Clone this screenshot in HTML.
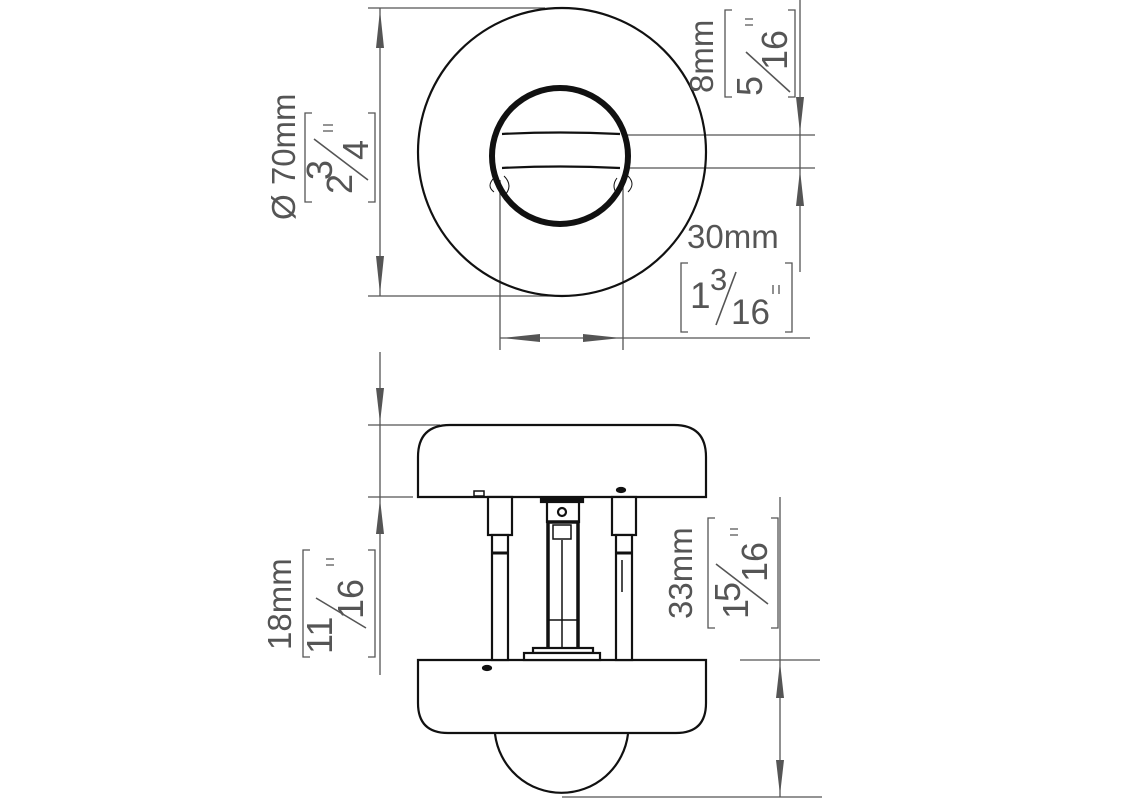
<!DOCTYPE html>
<html><head><style>
html,body{margin:0;padding:0;background:#fff;}
svg{display:block;}
text{font-family:"Liberation Sans",sans-serif;fill:#555;}
</style></head><body>
<svg width="1130" height="800" viewBox="0 0 1130 800" xmlns="http://www.w3.org/2000/svg">
<g stroke="#555" stroke-width="1.3" fill="none">
<line x1="368" y1="8" x2="545" y2="8"/>
<line x1="368" y1="296" x2="560" y2="296"/>
<line x1="380" y1="8" x2="380" y2="296"/>
<path d="M376,48 L380,10 L384,48Z M376,256 L380,294 L384,256Z" fill="#555" stroke="none"/>
<line x1="625" y1="135" x2="815" y2="135"/>
<line x1="625" y1="168" x2="815" y2="168"/>
<line x1="800" y1="0" x2="800" y2="272"/>
<path d="M796,97 L800,133 L804,97Z M796,206 L800,170 L804,206Z" fill="#555" stroke="none"/>
<line x1="500" y1="180" x2="500" y2="350"/>
<line x1="623" y1="180" x2="623" y2="350"/>
<line x1="500" y1="338" x2="810" y2="338"/>
<path d="M502,338 L540,334 L540,342Z M621,338 L583,334 L583,342Z" fill="#555" stroke="none"/>
<path d="M312,113 L305,113 L305,202 L312,202 M368,113 L375,113 L375,202 L368,202"/>
<path d="M732,10 L725,10 L725,97 L732,97 M788,10 L795,10 L795,97 L788,97"/>
<path d="M688,263 L681,263 L681,332 L688,332 M785,263 L792,263 L792,332 L785,332"/>
<path d="M310,550 L303,550 L303,657 L310,657 M368,550 L375,550 L375,657 L368,657"/>
<path d="M715,518 L708,518 L708,628 L715,628 M771,518 L778,518 L778,628 L771,628"/>
<line x1="380" y1="352" x2="380" y2="675"/>
<line x1="368" y1="425" x2="440" y2="425"/>
<line x1="368" y1="497" x2="413" y2="497"/>
<path d="M376,388 L380,423 L384,388Z M376,534 L380,499 L384,534Z" fill="#555" stroke="none"/>
<line x1="780" y1="497" x2="780" y2="797"/>
<line x1="740" y1="660" x2="820" y2="660"/>
<line x1="562" y1="797" x2="822" y2="797"/>
<path d="M776,698 L780,662 L784,698Z M776,760 L780,795 L784,760Z" fill="#555" stroke="none"/>
<line x1="314" y1="139" x2="368" y2="180" stroke-width="1.6"/>
<line x1="746" y1="52" x2="790" y2="92" stroke-width="1.6"/>
<line x1="736" y1="272" x2="716" y2="325" stroke-width="1.6"/>
<line x1="316" y1="598" x2="366" y2="628" stroke-width="1.6"/>
<line x1="716" y1="564" x2="768" y2="604" stroke-width="1.6"/>
<path d="M323,125 L333,125 M323,131 L333,131"/>
<path d="M745,19 L753,19 M745,25 L753,25"/>
<path d="M773,285 L773,294 M779,285 L779,294"/>
<path d="M326,559 L334,559 M326,565 L334,565"/>
<path d="M730,529 L738,529 M730,535 L738,535"/>
</g>
<g stroke="#111" fill="none">
<circle cx="562" cy="152" r="144" stroke-width="2.2"/>
<circle cx="560" cy="156" r="68" stroke-width="6"/>
<path d="M502,134 Q560,131 620,134 M502,168 Q560,165 620,168" stroke-width="2.2"/>
<path d="M494,178 Q486,186 494,192 M504,176 Q514,186 504,196 M617,178 Q611,186 617,194 M628,176 Q636,184 628,192" stroke-width="1"/>
</g>
<g stroke="#111" stroke-width="2.2" fill="#fff">
<path d="M418,497 L418,457 Q418,425 450,425 L674,425 Q706,425 706,457 L706,497 Z"/>
<path d="M418,660 L706,660 L706,703 Q706,733 676,733 L448,733 Q418,733 418,703 Z"/>
<path d="M495,734 A67,67 0 0 0 628,734" fill="none"/>
<rect x="488" y="497" width="24" height="38"/>
<rect x="492" y="535" width="16" height="125"/>
<line x1="492" y1="553" x2="508" y2="553" stroke-width="3"/>
<rect x="612" y="497" width="24" height="38"/>
<rect x="616" y="535" width="16" height="125"/>
<line x1="616" y1="553" x2="632" y2="553" stroke-width="3"/>
<line x1="622" y1="560" x2="622" y2="592" stroke-width="1.5"/>
<rect x="541" y="498" width="42" height="4" fill="#111"/>
<rect x="547" y="502" width="32" height="20"/>
<circle cx="562" cy="512" r="4"/>
<rect x="548" y="522" width="30" height="130" stroke-width="3.5"/>
<line x1="562" y1="540" x2="562" y2="650" stroke-width="1.5"/>
<rect x="553" y="525" width="18" height="14" stroke-width="1.5"/>
<line x1="548" y1="620" x2="578" y2="620" stroke-width="1.5"/>
<rect x="533" y="648" width="60" height="5"/>
<rect x="524" y="653" width="76" height="7"/>
<rect x="474" y="491" width="10" height="5" stroke-width="1.5"/>
<ellipse cx="621" cy="490" rx="4" ry="2" fill="#111"/>
<ellipse cx="487" cy="668" rx="4" ry="2" fill="#111"/>
</g>
<g font-size="33">
<text transform="translate(295,220) rotate(-90)">Ø 70mm</text>
<text transform="translate(713,93) rotate(-90)">8mm</text>
<text x="687" y="248">30mm</text>
<text transform="translate(291,650) rotate(-90)">18mm</text>
<text transform="translate(692,619) rotate(-90)">33mm</text>
</g>
<g font-size="36">
<text transform="translate(352,194) rotate(-90)">2</text>
<text transform="translate(332,180) rotate(-90)">3</text>
<text transform="translate(368,160) rotate(-90)">4</text>
<text transform="translate(762,96) rotate(-90)">5</text>
<text transform="translate(787,70) rotate(-90)">16</text>
<text x="690" y="308" font-size="37">1</text>
<text x="710" y="290" font-size="31">3</text>
<text x="731" y="324" font-size="35">16</text>
<text transform="translate(332,654) rotate(-90)">11</text>
<text transform="translate(363,619) rotate(-90)">16</text>
<text transform="translate(748,619) rotate(-90)">1</text>
<text transform="translate(740,602) rotate(-90)">5</text>
<text transform="translate(767,582) rotate(-90)">16</text>
</g>
</svg>
</body></html>
